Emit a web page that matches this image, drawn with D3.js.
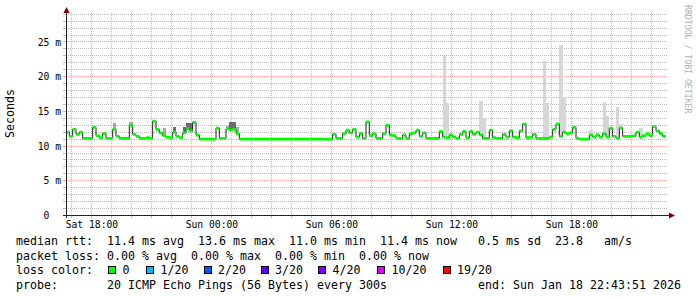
<!DOCTYPE html>
<html>
<head>
<meta charset="utf-8">
<script src="https://cdn.jsdelivr.net/npm/d3@7/dist/d3.min.js"></script>
<style>
    body { margin: 0; background: #ffffff; }
    svg text { font-family: "DejaVu Sans Mono", monospace; white-space: pre; }
</style>
</head>
<body>
<svg id="chart" width="697" height="297"></svg>
<script>
// median rtt in ms, one value every 10 minutes from the start time
const startTime = new Date(2026, 0, 17, 16, 43, 51);
const endTime = new Date(2026, 0, 18, 22, 43, 51);
const stepMinutes = 10;

const medianRtt = [
    12.0, 11.4, 12.4, 11.7, 12.0, 11.1, 11.1, 11.1, 12.7, 11.5,
    11.2, 11.8, 11.1, 11.1, 12.4, 11.4, 11.1, 11.1, 11.1, 13.0,
    11.7, 11.4, 11.1, 11.1, 11.2, 11.1, 13.6, 12.4, 11.9, 11.5,
    11.3, 11.2, 12.0, 11.4, 11.2, 11.9, 12.5, 12.2, 13.4, 11.6,
    11.0, 11.0, 11.0, 11.0, 11.0, 12.6, 11.1, 11.1, 12.5, 12.3,
    12.4, 11.8, 11.0, 11.0, 11.0, 11.0, 11.0, 11.0, 11.0, 11.0,
    11.0, 11.0, 11.0, 11.0, 11.0, 11.0, 11.0, 11.0, 11.0, 11.0,
    11.0, 11.0, 11.0, 11.0, 11.0, 11.0, 11.0, 11.0, 11.0, 11.0,
    11.7, 11.1, 11.1, 11.8, 12.3, 11.9, 12.4, 11.3, 11.8, 11.1,
    13.5, 11.5, 11.8, 11.1, 11.1, 11.8, 13.0, 11.6, 11.5, 11.1,
    11.1, 11.6, 11.1, 11.8, 11.9, 12.3, 11.4, 11.9, 11.1, 11.1,
    11.1, 11.1, 12.1, 11.3, 11.2, 11.6, 11.3, 11.1, 11.7, 12.1,
    11.2, 12.1, 11.7, 12.0, 11.6, 11.1, 11.1, 12.3, 11.2, 11.1,
    11.1, 11.7, 11.3, 12.2, 11.3, 11.2, 12.2, 13.2, 11.2, 11.3,
    11.7, 11.1, 11.1, 11.1, 11.1, 11.3, 12.4, 13.2, 11.4, 12.0,
    11.8, 11.9, 12.7, 11.1, 11.0, 11.0, 11.0, 11.6, 11.3, 11.6,
    11.3, 11.8, 11.3, 12.6, 11.4, 11.1, 12.6, 11.4, 11.4, 11.4,
    11.5, 12.0, 11.3, 11.5, 11.8, 11.5, 12.8, 12.2, 11.8, 11.4
];

// smoke (ping spread) tops in ms: [step index, top]
const smokeLight = [
    [113, 23.1], [114, 16.2], [124, 16.5], [125, 14.0], [143, 22.3], [144, 16.2],
    [148, 24.6], [149, 17.0], [157, 12.3], [161, 16.3], [162, 14.4], [165, 15.6],
    [166, 13.2], [172, 12.6]
];
const smokeMid = [[14, 13.3], [19, 13.4], [29, 12.6], [48, 12.9], [51, 12.7]];
const smokeDark = [[32, 12.7], [35, 12.7], [36, 13.3], [37, 13.3], [45, 12.8], [49, 13.4], [50, 13.4]];

const yTicks = [0, 5, 10, 15, 20, 25];
const yMax = 29.1;

const rttStats = ["11.4", "13.6", "11.0", "11.4"];
const rttSd = "0.5";
const amPerSec = "23.8";
const lossStats = ["0.00", "0.00", "0.00", "0.00"];
const lossLevels = ["0", "1/20", "2/20", "3/20", "4/20", "10/20", "19/20"];
const probeText = "20 ICMP Echo Pings (56 Bytes) every 300s";
const endText = "end: Sun Jan 18 22:43:51 2026";

const lossColors = ["#00ff00", "#00b8ff", "#0059ff", "#5e00ff", "#7e00ff", "#dd00ff", "#ff0000"];

function drawChart() {
    const svg = d3.select("#chart");
    const plot = { left: 66, right: 666, top: 13, bottom: 215 };

    const x = d3.scaleTime().domain([startTime, endTime]).range([plot.left, plot.right]);
    const y = d3.scaleLinear().domain([0, yMax]).range([plot.bottom + 0.5, plot.top + 0.5]);
    const snap = v => Math.round(v - 0.5) + 0.5;

    const timeAt = i => d3.timeMinute.offset(startTime, i * stepMinutes);
    const points = medianRtt.map((v, i) => ({ t: timeAt(i), v: v }));
    points.push({ t: endTime, v: medianRtt[medianRtt.length - 1] });

    svg.append("rect").attr("width", 697).attr("height", 297).attr("fill", "#ffffff");

    // grid
    const grid = svg.append("g").attr("shape-rendering", "crispEdges");
    const minorCol = "rgba(143,143,143,0.6)";
    const majorCol = "rgba(222,80,80,0.55)";

    d3.range(1, Math.floor(yMax) + 1).forEach(v => {
        const yy = snap(y(v));
        const col = v % 5 === 0 ? majorCol : minorCol;
        grid.append("line").attr("x1", plot.left - 3).attr("x2", plot.left)
            .attr("y1", yy).attr("y2", yy).attr("stroke", col);
        grid.append("line").attr("x1", plot.left).attr("x2", plot.right + 2)
            .attr("y1", yy).attr("y2", yy).attr("stroke", col).attr("stroke-dasharray", "1,1");
    });

    x.ticks(d3.timeHour.every(1)).forEach(t => {
        const xx = snap(x(t));
        const col = t.getHours() % 3 === 0 ? majorCol : minorCol;
        grid.append("line").attr("x1", xx).attr("x2", xx)
            .attr("y1", plot.bottom).attr("y2", plot.bottom + 3).attr("stroke", col);
        grid.append("line").attr("x1", xx).attr("x2", xx)
            .attr("y1", plot.top).attr("y2", plot.bottom).attr("stroke", col).attr("stroke-dasharray", "1,1");
    });

    // smoke
    const smoke = svg.append("g").attr("shape-rendering", "crispEdges");
    function drawSmoke(list, colour) {
        smoke.selectAll(null)
            .data(list)
            .enter().append("rect")
            .attr("x", d => x(timeAt(d[0])))
            .attr("width", d => x(timeAt(d[0] + 1)) - x(timeAt(d[0])))
            .attr("y", d => y(d[1]))
            .attr("height", d => y(medianRtt[d[0]]) - y(d[1]))
            .attr("fill", colour);
    }
    drawSmoke(smokeLight, "#d6d6d6");
    drawSmoke(smokeMid, "#a6a6a6");
    drawSmoke(smokeDark, "#6c6c6c");

    // median line with loss colour band
    svg.append("path")
        .datum(points)
        .attr("fill", "none")
        .attr("stroke", "#202020")
        .attr("stroke-width", 1)
        .attr("d", d3.line().curve(d3.curveStepAfter).x(d => x(d.t)).y(d => y(d.v)));

    svg.append("path")
        .datum(points)
        .attr("fill", lossColors[0])
        .attr("d", d3.area().curve(d3.curveStepAfter)
            .x(d => x(d.t))
            .y0(d => y(d.v) + 1.4)
            .y1(d => y(d.v) - 1.4));

    // axes
    const axisCol = "#212121";
    const arrowCol = "#800000";
    svg.append("line").attr("x1", plot.left + 0.5).attr("x2", plot.left + 0.5)
        .attr("y1", plot.bottom + 3).attr("y2", plot.top - 3)
        .attr("stroke", axisCol).attr("shape-rendering", "crispEdges");
    svg.append("line").attr("x1", plot.left - 3).attr("x2", plot.right + 4)
        .attr("y1", plot.bottom + 0.5).attr("y2", plot.bottom + 0.5)
        .attr("stroke", axisCol).attr("shape-rendering", "crispEdges");
    svg.append("path")
        .attr("d", `M${plot.left + 0.5},${plot.top - 6} L${plot.left + 3.5},${plot.top} L${plot.left - 2.5},${plot.top} Z`)
        .attr("fill", arrowCol);
    svg.append("path")
        .attr("d", `M${plot.right + 9},${plot.bottom + 0.5} L${plot.right + 3},${plot.bottom + 3.5} L${plot.right + 3},${plot.bottom - 2.5} Z`)
        .attr("fill", arrowCol);

    const yAxis = svg.append("g")
        .attr("transform", `translate(${plot.left},0)`)
        .call(d3.axisLeft(y).tickValues(yTicks).tickSize(0).tickPadding(5)
            .tickFormat(d => d === 0 ? "0  " : d + " m"));
    yAxis.select(".domain").remove();
    yAxis.selectAll("text")
        .attr("font-family", "DejaVu Sans Mono")
        .attr("font-size", "9.7px")
        .attr("fill", "#000");

    const xAxis = svg.append("g")
        .attr("transform", `translate(0,${plot.bottom})`)
        .call(d3.axisBottom(x).ticks(d3.timeHour.every(6)).tickSize(0)
            .tickFormat(d3.timeFormat("%a %H:%M")));
    xAxis.select(".domain").remove();
    xAxis.selectAll("text")
        .attr("y", 13)
        .attr("dy", 0)
        .attr("font-family", "DejaVu Sans Mono")
        .attr("font-size", "9.7px")
        .attr("fill", "#000");

    // titles
    svg.append("text")
        .attr("transform", "translate(14,113.5) rotate(-90)")
        .attr("text-anchor", "middle")
        .attr("font-size", "11.6px")
        .text("Seconds");

    svg.append("text")
        .attr("transform", "translate(684.5,5) rotate(90)")
        .attr("font-size", "8.2px")
        .attr("fill", "#b0b0b0")
        .text("RRDTOOL / TOBI OETIKER");

    // legend
    const legend = svg.append("g").attr("font-size", "11.63px").attr("fill", "#000");
    legend.append("text").attr("x", 16).attr("y", 245)
        .text(`median rtt:  ${rttStats[0]} ms avg  ${rttStats[1]} ms max  ${rttStats[2]} ms min  ${rttStats[3]} ms now   ${rttSd} ms sd  ${amPerSec}   am/s`);
    legend.append("text").attr("x", 16).attr("y", 259.5)
        .text(`packet loss: ${lossStats[0]} % avg  ${lossStats[1]} % max  ${lossStats[2]} % min  ${lossStats[3]} % now`);
    legend.append("text").attr("x", 16).attr("y", 274).text("loss color:");

    const boxX = [108, 146, 203.5, 260.5, 318, 377, 442.5];
    lossLevels.forEach((lvl, i) => {
        legend.append("rect")
            .attr("x", boxX[i] + 0.5).attr("y", 266.5)
            .attr("width", 7).attr("height", 7)
            .attr("fill", lossColors[i])
            .attr("stroke", "#000")
            .attr("shape-rendering", "crispEdges");
        legend.append("text")
            .attr("x", boxX[i] + 14.5)
            .attr("y", 274)
            .text(lvl);
    });

    legend.append("text").attr("x", 16).attr("y", 288.5)
        .text(`probe:       ${probeText}             ${endText}`);
}

drawChart();
</script>
</body>
</html>
